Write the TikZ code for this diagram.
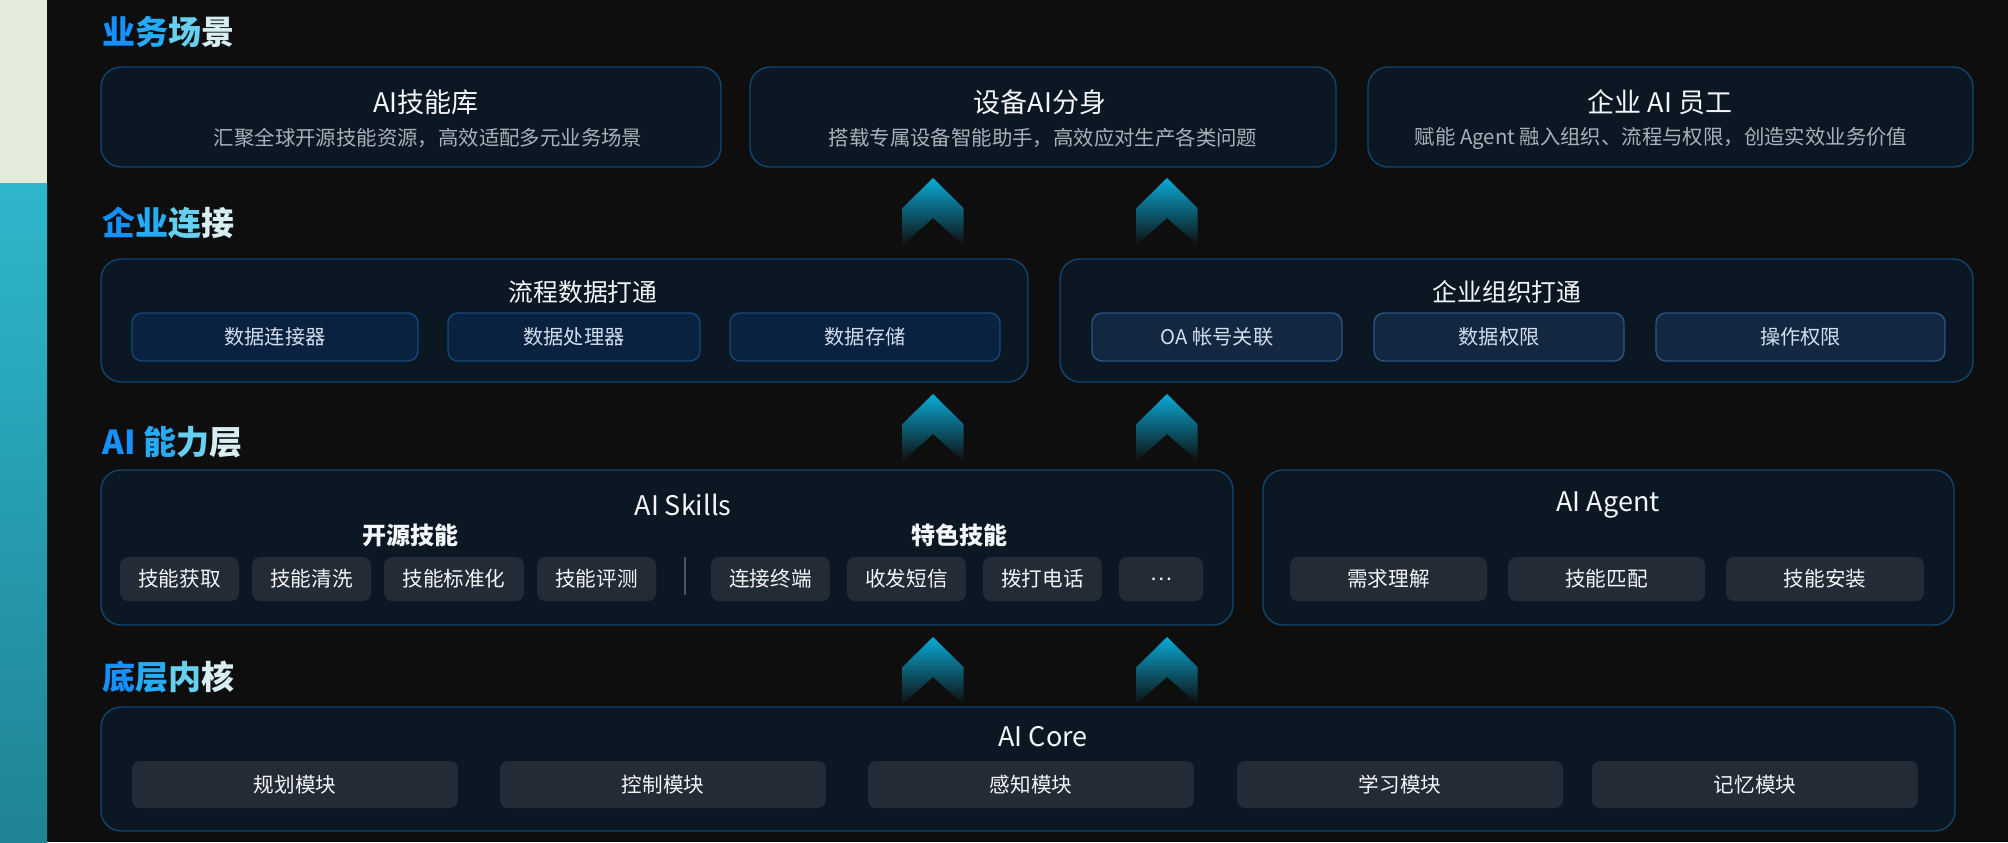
\documentclass[tikz,border=0pt]{standalone}
\usepackage{fontspec}
\setmainfont{Noto Sans CJK SC}
\usepackage{tikz}

\definecolor{bg}{HTML}{0E0E0E}
\definecolor{sidelight}{HTML}{E5EBDA}
\definecolor{sidetop}{HTML}{2EB6CB}
\definecolor{sidebot}{HTML}{1F8494}
\definecolor{boxfill}{HTML}{0B1723}
\definecolor{boxline}{HTML}{0F4670}
\definecolor{flowfill}{HTML}{0B2140}
\definecolor{flowline}{HTML}{15487A}
\definecolor{orgfill}{HTML}{132740}
\definecolor{orgline}{HTML}{2A5684}
\definecolor{pillfill}{HTML}{222B36}
\definecolor{headtext}{HTML}{F4F6F9}
\definecolor{subtext}{HTML}{A9B1BA}
\definecolor{celltext}{HTML}{D2DEEE}
\definecolor{chevtop}{HTML}{0AAAD6}
\definecolor{chevmid}{HTML}{0A7494}
\definecolor{gA}{HTML}{1590FF}
\definecolor{gB}{HTML}{26ACF6}
\definecolor{gC}{HTML}{66D0F0}
\definecolor{gD}{HTML}{D8EEF2}

\newcommand{\upchevron}[2]{\shade[top color=chevtop, middle color=chevmid, bottom color=bg] (#1,#2) -- ++(30.5,30) -- ++(0,37) -- ++(-30.5,-27) -- ++(-30.5,27) -- ++(0,-37) -- cycle;}

\begin{document}
\begin{tikzpicture}[x=0.5pt, y=-0.5pt]
\tikzstyle{BoxStyle}=[draw=boxline, fill=boxfill, rounded corners=10pt, line width=0.7pt, inner sep=0pt]
\tikzstyle{FlowCell}=[draw=flowline, fill=flowfill, rounded corners=5pt, line width=0.7pt, inner sep=0pt, minimum height=24pt, text=celltext, font=\fontsize{10.1}{12}\selectfont]
\tikzstyle{OrgCell}=[draw=orgline, fill=orgfill, rounded corners=5pt, line width=0.7pt, inner sep=0pt, minimum height=24pt, text=celltext, font=\fontsize{10.1}{12}\selectfont]
\tikzstyle{PillStyle}=[fill=pillfill, rounded corners=4pt, inner sep=0pt, text=headtext, font=\fontsize{10.3}{12}\selectfont]
\tikzstyle{HeadText}=[text=headtext, inner sep=0pt, font=\fontsize{13.5}{16}\selectfont]
\tikzstyle{SubText}=[text=subtext, inner sep=0pt, font=\fontsize{10.2}{12}\selectfont]
\tikzstyle{GroupText}=[text=headtext, inner sep=0pt, font=\fontsize{12}{14}\selectfont\bfseries]
\tikzstyle{LayerText}=[anchor=west, inner sep=0pt, font=\fontsize{16.5}{20}\selectfont\bfseries]

\useasboundingbox (0,0) rectangle (2008,842);
\fill[bg] (0,0) rectangle (2008,842);
\fill[sidelight] (0,0) rectangle (47,183);
\shade[top color=sidetop, bottom color=sidebot] (0,183) rectangle (47,842);

\node[LayerText] (layer1) at (102,32) {\textcolor{gA}{业}\textcolor{gB}{务}\textcolor{gC}{场}\textcolor{gD}{景}};
\node[LayerText] (layer2) at (102,223) {\textcolor{gA}{企}\textcolor{gB}{业}\textcolor{gC}{连}\textcolor{gD}{接}};
\node[LayerText] (layer3) at (102,442) {\textcolor{gA}{AI} \textcolor{gB}{能}\textcolor{gC}{力}\textcolor{gD}{层}};
\node[LayerText] (layer4) at (102,677) {\textcolor{gA}{底}\textcolor{gB}{层}\textcolor{gC}{内}\textcolor{gD}{核}};

\node[BoxStyle, minimum width=310pt, minimum height=50pt] (library) at (411,117) {};
\node[BoxStyle, minimum width=293pt, minimum height=50pt] (avatar) at (1043,117) {};
\node[BoxStyle, minimum width=302.5pt, minimum height=50pt] (staff) at (1670.5,117) {};
\node[HeadText] (libraryT) at (426,102) {AI技能库};
\node[SubText] (libraryS) at (428,138) {汇聚全球开源技能资源，高效适配多元业务场景};
\node[HeadText] (avatarT) at (1040,102) {设备AI分身};
\node[SubText] (avatarS) at (1043,138) {搭载专属设备智能助手，高效应对生产各类问题};
\node[HeadText] (staffT) at (1660,102) {企业 AI 员工};
\node[SubText] (staffS) at (1661,138) {赋能 Agent 融入组织、流程与权限，创造实效业务价值};

\node[BoxStyle, minimum width=463.5pt, minimum height=61.5pt] (flow) at (564.5,320.5) {};
\node[BoxStyle, minimum width=456.5pt, minimum height=61.5pt] (org) at (1516.5,320.5) {};
\node[HeadText, font=\fontsize{12.4}{15}\selectfont] (flowT) at (583,292) {流程数据打通};
\node[HeadText, font=\fontsize{12.4}{15}\selectfont] (orgT) at (1507,292) {企业组织打通};
\node[FlowCell, minimum width=143pt] (connector) at (275,337) {数据连接器};
\node[FlowCell, minimum width=126pt] (processor) at (574,337) {数据处理器};
\node[FlowCell, minimum width=135pt] (storage) at (865,337) {数据存储};
\node[OrgCell, minimum width=125pt] (account) at (1217,337) {OA 帐号关联};
\node[OrgCell, minimum width=125pt] (dataright) at (1499,337) {数据权限};
\node[OrgCell, minimum width=144.5pt] (opright) at (1800.5,337) {操作权限};

\node[BoxStyle, minimum width=566pt, minimum height=77.5pt] (skills) at (667,547.5) {};
\node[BoxStyle, minimum width=345.5pt, minimum height=77.5pt] (agent) at (1608.5,547.5) {};
\node[HeadText] (skillsT) at (683,505) {AI Skills};
\node[HeadText] (agentT) at (1608,505) {AI Agent};
\node[GroupText] (opensrc) at (410,535) {开源技能};
\node[GroupText] (special) at (959,535) {特色技能};
\node[PillStyle, minimum width=59.5pt, minimum height=22pt] (fetch) at (179.5,579) {技能获取};
\node[PillStyle, minimum width=59.5pt, minimum height=22pt] (clean) at (311.5,579) {技能清洗};
\node[PillStyle, minimum width=70pt, minimum height=22pt] (normal) at (454,579) {技能标准化};
\node[PillStyle, minimum width=59.5pt, minimum height=22pt] (evaluate) at (596.5,579) {技能评测};
\draw[draw=pillfill!80!white, line width=0.8pt] (685,557) -- (685,595);
\node[PillStyle, minimum width=59.5pt, minimum height=22pt] (terminal) at (770.5,579) {连接终端};
\node[PillStyle, minimum width=59.5pt, minimum height=22pt] (message) at (906.5,579) {收发短信};
\node[PillStyle, minimum width=59.5pt, minimum height=22pt] (phone) at (1042.5,579) {拨打电话};
\node[PillStyle, minimum width=42pt, minimum height=22pt] (more) at (1161,579) {…};
\node[PillStyle, minimum width=98.5pt, minimum height=22pt] (demand) at (1388.5,579) {需求理解};
\node[PillStyle, minimum width=98.5pt, minimum height=22pt] (match) at (1606.5,579) {技能匹配};
\node[PillStyle, minimum width=99pt, minimum height=22pt] (install) at (1825,579) {技能安装};

\node[BoxStyle, minimum width=927pt, minimum height=62pt] (core) at (1028,769) {};
\node[HeadText] (coreT) at (1043,737) {AI Core};
\node[PillStyle, minimum width=163pt, minimum height=23.5pt] (plan) at (295,784.5) {规划模块};
\node[PillStyle, minimum width=163pt, minimum height=23.5pt] (control) at (663,784.5) {控制模块};
\node[PillStyle, minimum width=163pt, minimum height=23.5pt] (sense) at (1031,784.5) {感知模块};
\node[PillStyle, minimum width=163pt, minimum height=23.5pt] (learn) at (1400,784.5) {学习模块};
\node[PillStyle, minimum width=163pt, minimum height=23.5pt] (memory) at (1755,784.5) {记忆模块};

\upchevron{933}{178}
\upchevron{1167}{178}
\upchevron{933}{394}
\upchevron{1167}{394}
\upchevron{933}{637}
\upchevron{1167}{637}
\end{tikzpicture}
\end{document}
